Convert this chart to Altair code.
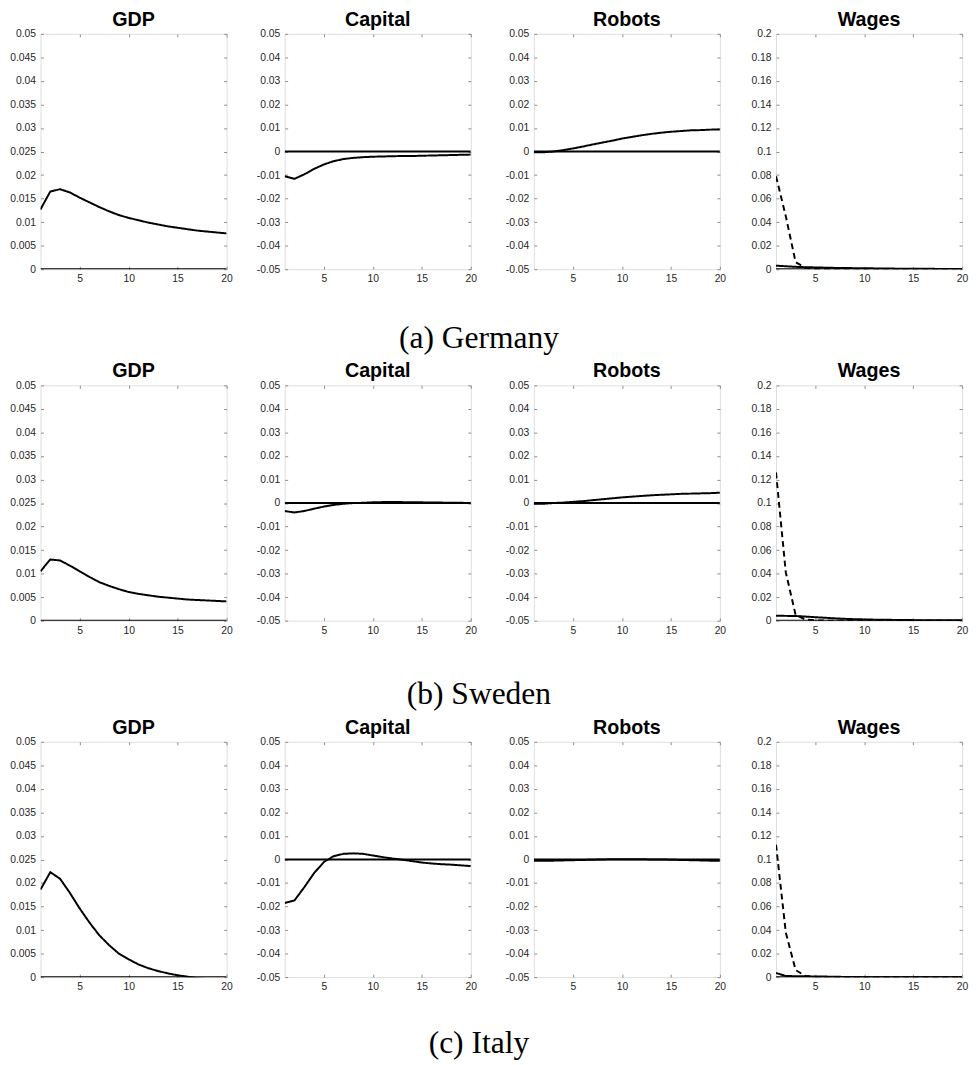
import altair as alt
import pandas as pd

periods = list(range(1, 21))
variables = ["GDP", "Capital", "Robots", "Wages"]
countries = ["Germany", "Sweden", "Italy"]
captions = ["(a) Germany", "(b) Sweden", "(c) Italy"]

# ---- Germany ----
de_gdp = [0.0127, 0.0165, 0.0170, 0.0163, 0.0152, 0.0142, 0.0132, 0.0123, 0.0115, 0.0109,
          0.0104, 0.0099, 0.0095, 0.0091, 0.0088, 0.0085, 0.0082, 0.0080, 0.0078, 0.0076]
de_capital = [-0.0105, -0.0116, -0.0097, -0.0074, -0.0055, -0.0041, -0.0032, -0.0027, -0.0024, -0.0022,
              -0.0021, -0.0020, -0.0019, -0.0019, -0.0018, -0.0017, -0.0016, -0.0015, -0.0014, -0.0013]
de_robots = [-0.0003, -0.0003, 0.0000, 0.0006, 0.0013, 0.0021, 0.0030, 0.0038, 0.0046, 0.0055,
             0.0062, 0.0069, 0.0075, 0.0080, 0.0084, 0.0087, 0.0090, 0.0091, 0.0093, 0.0094]
de_wages = [0.0030, 0.0025, 0.0020, 0.0017, 0.0015, 0.0013, 0.0011, 0.0010, 0.0009, 0.0008,
            0.0007, 0.0006, 0.0005, 0.0004, 0.0004, 0.0003, 0.0003, 0.0002, 0.0002, 0.0002]
de_wages_dashed = [0.079, 0.045, 0.006, 0.001, 0.0003, 0.0001, 0.0, 0.0, 0.0, 0.0,
                   0.0, 0.0, 0.0, 0.0, 0.0, 0.0, 0.0, 0.0, 0.0, 0.0]

# ---- Sweden ----
se_gdp = [0.0105, 0.0130, 0.0128, 0.0117, 0.0105, 0.0093, 0.0082, 0.0074, 0.0067, 0.0061,
          0.0057, 0.0054, 0.0051, 0.0049, 0.0047, 0.0045, 0.0044, 0.0043, 0.0042, 0.0041]
se_capital = [-0.0034, -0.0040, -0.0034, -0.0024, -0.0015, -0.0008, -0.0003, 0.0000, 0.0001, 0.0003,
              0.0004, 0.0004, 0.0004, 0.0003, 0.0003, 0.0002, 0.0002, 0.0001, 0.0001, 0.0000]
se_robots = [-0.0003, -0.0003, 0.0000, 0.0002, 0.0005, 0.0008, 0.0012, 0.0016, 0.0020, 0.0024,
             0.0027, 0.0030, 0.0033, 0.0035, 0.0037, 0.0039, 0.0040, 0.0041, 0.0042, 0.0044]
se_wages = [0.0042, 0.0041, 0.0040, 0.0035, 0.0030, 0.0025, 0.0020, 0.0016, 0.0013, 0.0011,
            0.0009, 0.0008, 0.0007, 0.0006, 0.0005, 0.0005, 0.0004, 0.0004, 0.0003, 0.0003]
se_wages_dashed = [0.126, 0.041, 0.005, 0.001, 0.0003, 0.0001, 0.0, 0.0, 0.0, 0.0,
                   0.0, 0.0, 0.0, 0.0, 0.0, 0.0, 0.0, 0.0, 0.0, 0.0]

# ---- Italy ----
it_gdp = [0.0186, 0.0223, 0.0209, 0.0179, 0.0146, 0.0116, 0.0089, 0.0068, 0.0050, 0.0038,
          0.0027, 0.0019, 0.0013, 0.0008, 0.0004, 0.0001, -0.0002, -0.0004, -0.0005, -0.0006]
it_capital = [-0.0185, -0.0174, -0.0118, -0.0058, -0.0011, 0.0014, 0.0024, 0.0026, 0.0024, 0.0017,
              0.0010, 0.0004, -0.0001, -0.0007, -0.0013, -0.0017, -0.0020, -0.0022, -0.0025, -0.0028]
it_robots = [-0.0006, -0.0006, -0.0005, -0.0004, -0.0003, -0.0002, -0.0001, 0.0000, 0.0001, 0.0001,
             0.0001, 0.0001, 0.0000, 0.0000, -0.0001, -0.0002, -0.0003, -0.0004, -0.0005, -0.0006]
it_wages = [0.0035, 0.0010, 0.0008, 0.0007, 0.0006, 0.0005, 0.0003, 0.0002, 0.0001, 0.0000,
            0.0, 0.0, 0.0, 0.0, 0.0, 0.0, 0.0, 0.0, 0.0, 0.0]
it_wages_dashed = [0.1126, 0.038, 0.006, 0.001, 0.0003, 0.0001, 0.0, 0.0, 0.0, 0.0,
                   0.0, 0.0, 0.0, 0.0, 0.0, 0.0, 0.0, 0.0, 0.0, 0.0]

series = {
    "Germany": {"GDP": [("solid", de_gdp)], "Capital": [("solid", de_capital)],
                "Robots": [("solid", de_robots)],
                "Wages": [("solid", de_wages), ("dashed", de_wages_dashed)]},
    "Sweden": {"GDP": [("solid", se_gdp)], "Capital": [("solid", se_capital)],
               "Robots": [("solid", se_robots)],
               "Wages": [("solid", se_wages), ("dashed", se_wages_dashed)]},
    "Italy": {"GDP": [("solid", it_gdp)], "Capital": [("solid", it_capital)],
              "Robots": [("solid", it_robots)],
              "Wages": [("solid", it_wages), ("dashed", it_wages_dashed)]},
}

y_domains = {"GDP": [0, 0.05], "Capital": [-0.05, 0.05], "Robots": [-0.05, 0.05], "Wages": [0, 0.2]}
y_ticks = {
    "GDP": [0, 0.005, 0.01, 0.015, 0.02, 0.025, 0.03, 0.035, 0.04, 0.045, 0.05],
    "Capital": [-0.05, -0.04, -0.03, -0.02, -0.01, 0, 0.01, 0.02, 0.03, 0.04, 0.05],
    "Robots": [-0.05, -0.04, -0.03, -0.02, -0.01, 0, 0.01, 0.02, 0.03, 0.04, 0.05],
    "Wages": [0, 0.02, 0.04, 0.06, 0.08, 0.1, 0.12, 0.14, 0.16, 0.18, 0.2],
}
x_ticks = [5, 10, 15, 20]

rows = []
for c in countries:
    for v in variables:
        for style, vals in series[c][v]:
            for t, val in zip(periods, vals):
                rows.append({"country": c, "variable": v, "style": style, "t": t, "value": val})
df = pd.DataFrame(rows)
base_df = pd.DataFrame({"t": periods})

GRAY = "#8c8c8c"
LABEL = "#262626"
FONT = "Liberation Sans"
label_expr = "replace(format(datum.value, '~g'), '\u2212', '-')"


def axis(orient, values, labels):
    kw = dict(orient=orient, values=values, offset=-3, tickSize=3, tickColor=GRAY,
              tickWidth=1, domain=False, grid=False, title=None, labels=labels)
    if labels:
        kw.update(labelPadding=5, labelFont=FONT, labelFontSize=10.5, labelColor=LABEL,
                  labelExpr=label_expr, labelFlush=False, labelOverlap=False)
    return alt.Axis(**kw)


def panel(country, var):
    d = df[(df.country == country) & (df.variable == var)]
    xs = alt.Scale(domain=[1, 20], nice=False, zero=False)
    ys = alt.Scale(domain=y_domains[var], nice=False, zero=False)
    zero = alt.Chart(base_df).transform_calculate(baseline="0").mark_line(
        color="black", strokeWidth=2, clip=True
    ).encode(
        x=alt.X("t:Q", scale=xs, axis=axis("top", x_ticks, False)),
        y=alt.Y("baseline:Q", scale=ys, axis=axis("right", y_ticks[var], False)),
    )
    lines = alt.Chart(d).mark_line(color="black", strokeWidth=2, clip=True).encode(
        x=alt.X("t:Q", scale=xs, axis=axis("bottom", x_ticks, True)),
        y=alt.Y("value:Q", scale=ys, axis=axis("left", y_ticks[var], True)),
        detail="style:N",
        strokeDash=alt.StrokeDash("style:N",
                                  scale=alt.Scale(domain=["solid", "dashed"], range=[[1, 0], [6, 4]]),
                                  legend=None),
    )
    return alt.layer(zero, lines).resolve_axis(x="independent", y="independent").properties(
        width=189, height=239,
        title=alt.TitleParams(var, font=FONT, fontSize=20, fontWeight="bold", color="black",
                              offset=-1, anchor="middle"),
    )


caption_offsets = [39, 44, 36]
row_charts = []
for c, cap, off in zip(countries, captions, caption_offsets):
    p = [panel(c, v) for v in variables]
    row = alt.hconcat(
        p[0],
        alt.hconcat(p[1], alt.hconcat(p[2], p[3], spacing=24), spacing=27),
        spacing=22,
    ).properties(
        title=alt.TitleParams(cap, orient="bottom", font="Liberation Serif", fontSize=32,
                              fontWeight="normal", color="black", offset=off, anchor="middle",
                              dx=-10)
    )
    row_charts.append(row)

chart = alt.vconcat(*row_charts, spacing=7).properties(
    padding={"left": 1, "top": -7, "right": 0, "bottom": 0}
).configure_view(stroke=GRAY, strokeWidth=1).configure(background="white")

chart.save("out.html", embed_options={"renderer": "svg", "actions": False})
